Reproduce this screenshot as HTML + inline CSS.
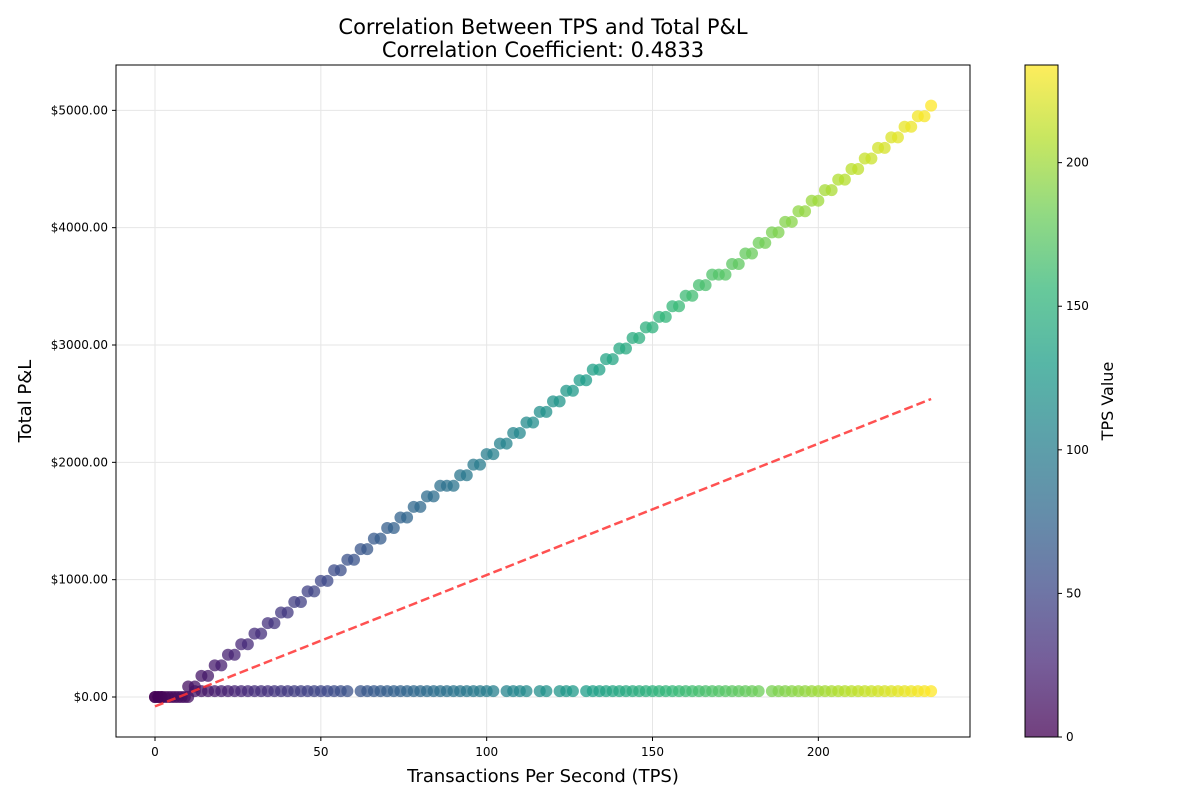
<!DOCTYPE html>
<html><head><meta charset="utf-8"><style>
body{margin:0;background:#fff;font-family:"Liberation Sans","DejaVu Sans",sans-serif}
svg text{font-family:"DejaVu Sans","Liberation Sans",sans-serif}
</style></head><body>
<svg id="chart" width="1200" height="800" xmlns="http://www.w3.org/2000/svg"></svg>
<script>
const zeroTps=[0,0,1,1,2,2,3,4,5,6,7,8,9,10,10];
const zeroPnl=[0,0,0,0,0,0,0,0,0,0,0,0,0,0,90];
const upTps=[12,14,16,18,20,22,24,26,28,30,32,34,36,38,40,42,44,46,48,50,52,54,56,58,60,62,64,66,68,70,72,74,76,78,80,82,84,86,88,90,92,94,96,98,100,102,104,106,108,110,112,114,116,118,120,122,124,126,128,130,132,134,136,138,140,142,144,146,148,150,152,154,156,158,160,162,164,166,168,170,172,174,176,178,180,182,184,186,188,190,192,194,196,198,200,202,204,206,208,210,212,214,216,218,220,222,224,226,228,230,232,234];
const upPnl=[90,180,180,270,270,360,360,450,450,540,540,630,630,720,720,810,810,900,900,990,990,1080,1080,1170,1170,1260,1260,1350,1350,1440,1440,1530,1530,1620,1620,1710,1710,1800,1800,1800,1890,1890,1980,1980,2070,2070,2160,2160,2250,2250,2340,2340,2430,2430,2520,2520,2610,2610,2700,2700,2790,2790,2880,2880,2970,2970,3060,3060,3150,3150,3240,3240,3330,3330,3420,3420,3510,3510,3600,3600,3600,3690,3690,3780,3780,3870,3870,3960,3960,4050,4050,4140,4140,4230,4230,4320,4320,4410,4410,4500,4500,4590,4590,4680,4680,4770,4770,4860,4860,4950,4950,5040];
const lowTps=[12,14,16,18,20,22,24,26,28,30,32,34,36,38,40,42,44,46,48,50,52,54,56,58,62,64,66,68,70,72,74,76,78,80,82,84,86,88,90,92,94,96,98,100,102,106,108,110,112,116,118,122,124,126,130,132,134,136,138,140,142,144,146,148,150,152,154,156,158,160,162,164,166,168,170,172,174,176,178,180,182,186,188,190,192,194,196,198,200,202,204,206,208,210,212,214,216,218,220,222,224,226,228,230,232,234];
const lowPnl=[50,50,50,50,50,50,50,50,50,50,50,50,50,50,50,50,50,50,50,50,50,50,50,50,50,50,50,50,50,50,50,50,50,50,50,50,50,50,50,50,50,50,50,50,50,50,50,50,50,50,50,50,50,50,50,50,50,50,50,50,50,50,50,50,50,50,50,50,50,50,50,50,50,50,50,50,50,50,50,50,50,50,50,50,50,50,50,50,50,50,50,50,50,50,50,50,50,50,50,50,50,50,50,50,50,50];
const trendTps=[0,234];
const trendPnl=[-80,2540];
const xTicks=[0,50,100,150,200];
const yTicks=[0,1000,2000,3000,4000,5000];
const cTicks=[0,50,100,150,200];

const NS="http://www.w3.org/2000/svg",svg=document.getElementById('chart');
const L=116,R=970,T=65,B=737;
const X=v=>155+v*3.3167, Y=v=>697-v*0.11733;
const cMax=234, CY=v=>737-v*(672/cMax);
function el(t,a,p){const e=document.createElementNS(NS,t);for(const k in a)e.setAttribute(k,a[k]);(p||svg).appendChild(e);return e;}
const vir=[[68,1,84],[72,40,120],[62,74,137],[49,104,142],[38,130,142],[31,158,137],[53,183,121],[109,205,89],[180,222,44],[253,231,37]];
function cmap(v){let t=Math.max(0,Math.min(1,v/cMax))*9,i=Math.min(8,Math.floor(t)),f=t-i;const a=vir[i],b=vir[i+1];return `rgb(${a.map((c,j)=>Math.round(c+(b[j]-c)*f)).join(',')})`;}
// grid
xTicks.forEach(v=>{const g=el('line',{x1:X(v),x2:X(v),y1:T,y2:B,stroke:'#e6e6e6','stroke-width':1});});
yTicks.forEach(v=>{const g=el('line',{x1:L,x2:R,y1:Y(v),y2:Y(v),stroke:'#e6e6e6','stroke-width':1});});
// points
const pts=el('g',{});
function plot(xs,ys){xs.forEach((x,i)=>{const c=el('circle',{cx:X(x),cy:Y(ys[i]),r:6,fill:cmap(x),'fill-opacity':0.75},pts);});}
plot(zeroTps,zeroPnl);plot(lowTps,lowPnl);plot(upTps,upPnl);
const tl=el('line',{x1:X(trendTps[0]),y1:Y(trendPnl[0]),x2:X(trendTps[1]),y2:Y(trendPnl[1]),stroke:'#ff3333','stroke-opacity':0.85,'stroke-width':2.5,'stroke-dasharray':'9,4'});

const fr=el('rect',{x:L,y:T,width:R-L,height:B-T,fill:'none',stroke:'#000','stroke-width':1});

xTicks.forEach(v=>{el('line',{x1:X(v),x2:X(v),y1:B,y2:B+4,stroke:'#000'});const t=el('text',{x:X(v),y:B+19,'font-size':12,'text-anchor':'middle'});t.textContent=v;});
yTicks.forEach(v=>{el('line',{x1:L-4,x2:L,y1:Y(v),y2:Y(v),stroke:'#000'});const t=el('text',{x:L-8,y:Y(v)+4,'font-size':12,'text-anchor':'end'});t.textContent='$'+v.toFixed(2);});
// colorbar
const defs=el('defs',{});const gr=el('linearGradient',{id:'vg',x1:0,y1:1,x2:0,y2:0},defs);
vir.forEach((c,i)=>{el('stop',{offset:i/9,'stop-color':`rgb(${c})`,'stop-opacity':0.75},gr);});
const cb=el('rect',{x:1025,y:T,width:33,height:B-T,fill:'url(#vg)',stroke:'#000','stroke-width':1});

cTicks.forEach(v=>{el('line',{x1:1058,x2:1062,y1:CY(v),y2:CY(v),stroke:'#000'});const t=el('text',{x:1066,y:CY(v)+4,'font-size':12});t.textContent=v;});
function txt(s,a,n){const t=el('text',a);t.textContent=s;}
txt('Correlation Between TPS and Total P&L',{x:543,y:34,'font-size':21,'text-anchor':'middle'},'chart-title');
txt('Correlation Coefficient: 0.4833',{x:543,y:57,'font-size':21,'text-anchor':'middle'},'chart-subtitle');
txt('Transactions Per Second (TPS)',{x:543,y:782,'font-size':18,'text-anchor':'middle'},'x-axis-title');
txt('Total P&L',{x:31,y:401,'font-size':18,'text-anchor':'middle',transform:'rotate(-90 31 401)'},'y-axis-title');
txt('TPS Value',{x:1113,y:401,'font-size':16,'text-anchor':'middle',transform:'rotate(-90 1113 401)'},'colorbar-title');
</script>
</body></html>
